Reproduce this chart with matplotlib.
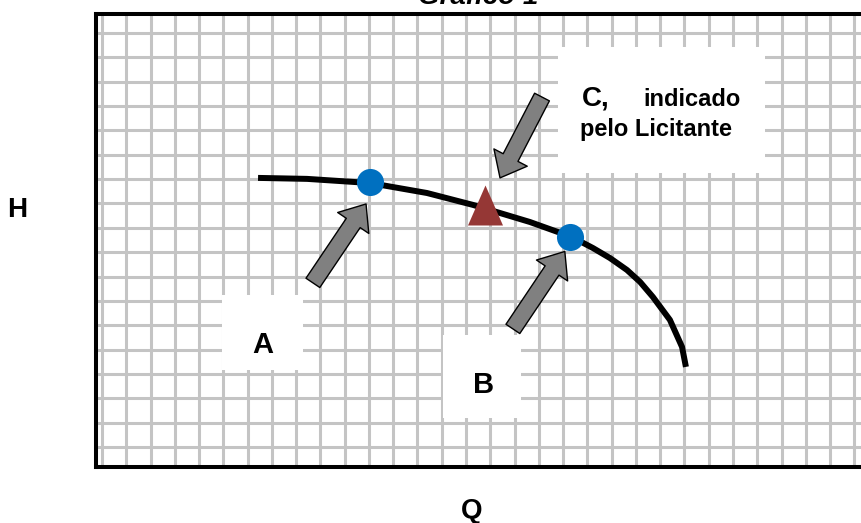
import matplotlib
matplotlib.use("Agg")
import matplotlib.pyplot as plt
from matplotlib.patches import FancyArrowPatch, Rectangle, ArrowStyle

plt.rcParams["font.family"] = ["Liberation Sans", "DejaVu Sans"]

# curve H(Q) in grid cells
curve_q = [6.43, 8.45, 11.04, 13.39, 15.29, 17.63, 19.37, 20.23, 20.93, 21.63, 22.17, 22.70, 23.40, 23.90, 24.06]
curve_h = [11.05, 11.01, 10.84, 10.43, 9.94, 9.24, 8.62, 8.17, 7.76, 7.27, 6.78, 6.16, 5.22, 4.11, 3.29]

# operating points
point_a = (11.04, 10.88)
point_b = (19.28, 8.62)
point_c = (15.80, 9.94)

# label boxes: (x0, y0, x1, y1)
box_a = (4.94, 3.16, 8.28, 6.24)
box_b = (14.05, 1.19, 17.26, 4.60)
box_c = (18.79, 11.25, 27.32, 16.43)

# arrows: (tail, tip)
arrow_a = ((8.69, 6.74), (10.88, 9.98))
arrow_b = ((16.93, 4.85), (19.07, 8.03))
arrow_c = ((18.13, 14.37), (16.40, 11.05))

fig = plt.figure(figsize=(8.61, 5.23), dpi=100)
ax = fig.add_axes([96 / 861, (523 - 466.5) / 523, (866 - 96) / 861, (466.5 - 14) / 523])
ax.set_xlim(-0.247, 31.48)
ax.set_ylim(-0.80, 17.78)

# squared paper
for gx in range(0, 32):
    ax.axvline(gx, color="#c4c4c4", lw=2.2, zorder=1)
for gy in range(0, 18):
    ax.axhline(gy, color="#c4c4c4", lw=2.2, zorder=1)

for b in (box_a, box_b, box_c):
    ax.add_patch(Rectangle((b[0], b[1]), b[2] - b[0], b[3] - b[1],
                           facecolor="white", edgecolor="none", zorder=2))

ax.plot(curve_q, curve_h, color="black", lw=4.3, solid_capstyle="butt",
        solid_joinstyle="round", zorder=3)

style = ArrowStyle.Simple(head_length=16.5, head_width=27, tail_width=12)
for tail, tip in (arrow_a, arrow_b, arrow_c):
    ax.add_patch(FancyArrowPatch(tail, tip, arrowstyle=style, mutation_scale=1,
                                 shrinkA=0, shrinkB=0, facecolor="#808080",
                                 edgecolor="black", lw=1.0, zorder=4))

ax.plot(*point_a, "o", ms=19.5, color="#0070c0", mec="none", zorder=5)
ax.plot(*point_b, "o", ms=19.5, color="#0070c0", mec="none", zorder=5)
tri = [(-0.875, -1), (0.875, -1), (0, 1)]
ax.plot(*point_c, marker=tri, ms=28.8, color="#953735", mec="none", zorder=5)

ax.text(6.63, 4.19, "A", fontsize=21, fontweight="bold", ha="center", va="center", zorder=6)
ax.text(15.74, 2.55, "B", fontsize=21, fontweight="bold", ha="center", va="center", zorder=6)
ax.text(19.78, 14.30, "C,", fontsize=20, fontweight="bold", ha="left", va="center", zorder=6)
ax.text(22.29, 14.25, "indicado", fontsize=17, fontweight="bold", ha="left", va="center", zorder=6)
ax.text(19.70, 13.02, "pelo Licitante", fontsize=17, fontweight="bold", ha="left", va="center", zorder=6)

ax.set_xticks([])
ax.set_yticks([])
for s in ax.spines.values():
    s.set_linewidth(2.9)
    s.set_color("black")
    s.set_zorder(7)

fig.text(17 / 861, 1 - 210 / 523, "H", fontsize=20, fontweight="bold", ha="center", va="center")
fig.text(472 / 861, 1 - 511 / 523, "Q", fontsize=20, fontweight="bold", ha="center", va="center")
# title sits mostly above the top edge, as in the reference
fig.text(478 / 861, 1 - 4 / 523, "Gráfico 1", fontsize=20, fontweight="bold", fontstyle="italic",
         ha="center", va="baseline")

fig.savefig("out.png", dpi=100)
